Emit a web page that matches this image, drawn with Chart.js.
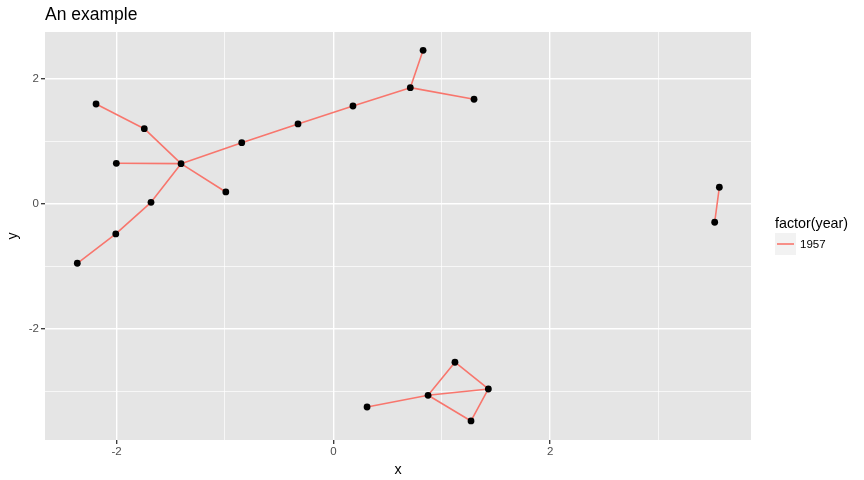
<!DOCTYPE html>
<html>
<head>
<meta charset="utf-8">
<title>An example</title>
<script src="https://cdn.jsdelivr.net/npm/chart.js@4.4.1/dist/chart.umd.min.js"></script>
<style>
  html, body { margin: 0; padding: 0; background: #fff; }
  #wrap { position: relative; width: 864px; height: 480px; }
</style>
</head>
<body>
<div id="wrap"><canvas id="chart" width="864" height="480"></canvas></div>
<script>
// node positions
const nodeX = [-2.362, -2.007, -1.682, -1.405, -2.002, -2.189, -1.744, -0.992, -0.845, -0.326, 0.181,
               0.710, 0.828, 1.298, 3.518, 3.561, 0.311, 0.874, 1.122, 1.430, 1.270];
const nodeY = [-0.947, -0.479, 0.027, 0.644, 0.650, 1.597, 1.203, 0.192, 0.979, 1.278, 1.565,
               1.858, 2.455, 1.673, -0.292, 0.267, -3.243, -3.056, -2.528, -2.955, -3.466];

// edges as pairs of node indices
const edgeFrom = [0, 1, 2, 3, 5, 6, 3, 3, 8, 9, 10, 11, 11, 14, 16, 17, 18, 19, 20, 17];
const edgeTo   = [1, 2, 3, 4, 6, 3, 7, 8, 9, 10, 11, 12, 13, 15, 17, 18, 19, 20, 17, 19];

const xTicks = [-2, 0, 2];
const yTicks = [-2, 0, 2];
const chartTitle = "An example";
const legendTitle = "factor(year)";
const legendLabels = ["1957"];

const FONT = '"Liberation Sans", Helvetica, Arial, sans-serif';
const edgeColor = "#F8766D";

// segments separated by null points so the line breaks between edges
const edgePoints = [];
edgeFrom.forEach((f, i) => {
    const t = edgeTo[i];
    edgePoints.push({ x: nodeX[f], y: nodeY[f] }, { x: nodeX[t], y: nodeY[t] }, { x: null, y: null });
});
const nodePoints = nodeX.map((x, i) => ({ x: x, y: nodeY[i] }));

const ggDecor = {
    id: "ggDecor",
    beforeDraw(chart) {
        const { ctx, chartArea: a } = chart;
        ctx.save();
        ctx.fillStyle = "#E5E5E5";
        ctx.fillRect(a.left, a.top, a.right - a.left, a.bottom - a.top);
        ctx.restore();
    },
    afterDraw(chart) {
        const { ctx, chartArea: a } = chart;
        ctx.save();
        ctx.fillStyle = "#000";
        ctx.textBaseline = "alphabetic";
        ctx.textAlign = "left";
        ctx.font = "17.5px " + FONT;
        ctx.fillText(chartTitle, a.left, 20);

        // legend to the right of the panel
        const lx = a.right + 24;
        ctx.font = "14.3px " + FONT;
        ctx.fillText(legendTitle, lx, 227.5);
        legendLabels.forEach((lab, i) => {
            const top = 233 + i * 22;
            ctx.fillStyle = "#F2F2F2";
            ctx.fillRect(lx, top, 21, 22);
            ctx.strokeStyle = edgeColor;
            ctx.lineWidth = 1.6;
            ctx.beginPath();
            ctx.moveTo(lx + 2, top + 11);
            ctx.lineTo(lx + 19, top + 11);
            ctx.stroke();
            ctx.fillStyle = "#000";
            ctx.font = "11.5px " + FONT;
            ctx.textBaseline = "middle";
            ctx.fillText(lab, lx + 25, top + 11.5);
        });
        ctx.restore();
    }
};

function axisOptions(min, max, major, title, tickPad, titlePad) {
    return {
        type: "linear",
        min: min,
        max: max,
        afterBuildTicks: s => { s.ticks = s.ticks.filter(t => Number.isInteger(t.value)); },
        ticks: {
            stepSize: 1,
            autoSkip: false,
            maxRotation: 0,
            padding: tickPad,
            color: "#4D4D4D",
            font: { family: FONT, size: 11.5 },
            callback: v => major.includes(v) ? String(v) : ""
        },
        grid: {
            color: "#FFFFFF",
            lineWidth: c => major.includes(c.tick.value) ? 1.4 : 0.7,
            tickLength: 4,
            tickWidth: 1.3,
            tickColor: c => major.includes(c.tick.value) ? "#333333" : "rgba(0,0,0,0)"
        },
        border: { display: false },
        title: {
            display: true,
            text: title,
            color: "#000",
            font: { family: FONT, size: 14.3 },
            padding: titlePad
        }
    };
}

const xAxis = axisOptions(-2.66, 3.853, xTicks, "x", 0.5, { top: 0, bottom: 1.5 });
xAxis.afterFit = s => { s.height = 40; };
const yAxis = axisOptions(-3.77, 2.747, yTicks, "y", 2, { top: 4.5, bottom: 0 });
yAxis.afterFit = s => { s.width = 45; };

new Chart(document.getElementById("chart").getContext("2d"), {
    type: "scatter",
    data: {
        datasets: [
            {
                label: "nodes",
                data: nodePoints,
                backgroundColor: "#000",
                borderColor: "#000",
                pointRadius: 3.4,
                pointBorderWidth: 0
            },
            {
                label: "1957",
                data: edgePoints,
                showLine: true,
                spanGaps: false,
                borderColor: edgeColor,
                borderWidth: 1.6,
                pointRadius: 0,
                fill: false
            }
        ]
    },
    options: {
        responsive: false,
        devicePixelRatio: 1,
        animation: false,
        layout: { padding: { left: 0, top: 32, right: 113, bottom: 0 } },
        scales: { x: xAxis, y: yAxis },
        plugins: {
            legend: { display: false },
            tooltip: { enabled: false }
        }
    },
    plugins: [ggDecor]
});
</script>
</body>
</html>
